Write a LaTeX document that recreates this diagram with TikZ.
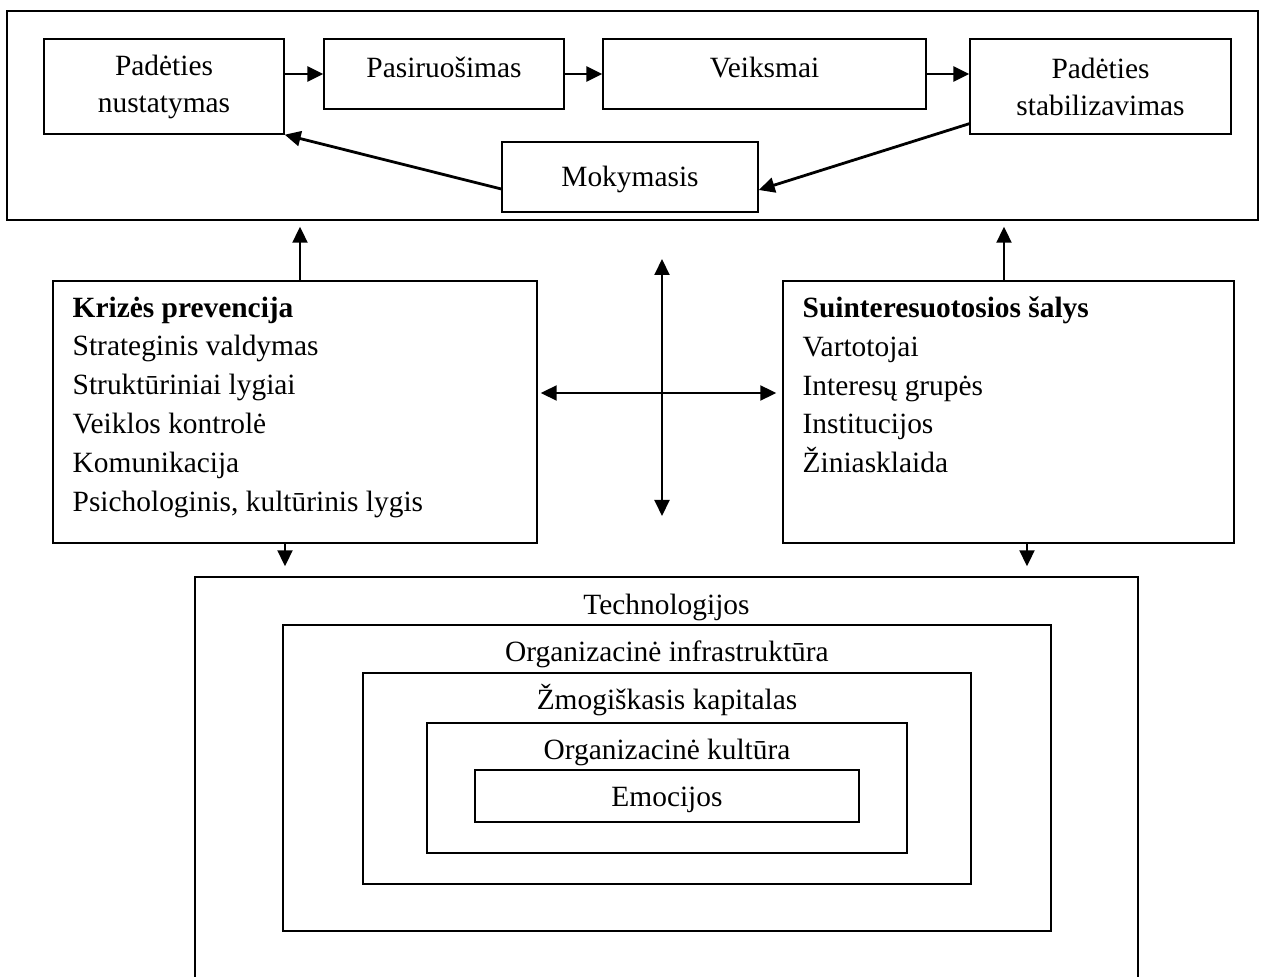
\documentclass[tikz,border=0pt]{standalone}
\usepackage{fontspec}
\setmainfont{Liberation Serif}
\usepackage{tikz}
\usetikzlibrary{positioning, arrows.meta}

\begin{document}
\begin{tikzpicture}[x=0.5pt, y=-0.5pt,
  font=\fontsize{14.7}{19.4}\selectfont,
  box/.style={draw, line width=0.7pt, inner sep=0pt, align=center},
  twoline/.style={font=\fontsize{14.7}{18.5}\selectfont},
  arr/.style={line width=1pt, -{Triangle[length=8pt, width=7.5pt]}},
  arrboth/.style={line width=1pt, {Triangle[length=8pt, width=7.5pt]}-{Triangle[length=8pt, width=7.5pt]}},
  layer/.style={anchor=base, inner sep=0pt},
  listtext/.style={anchor=north west, inner sep=0pt, align=left}]
  \useasboundingbox (0,0) rectangle (1264,977);

  % crisis management cycle
  \node[box, minimum width=625.5pt, minimum height=104.5pt] (frame) at (632.5,115.5) {};
  \node[box, twoline, minimum width=120pt, minimum height=47.5pt] (nustat) at (164,86.5) {Padėties\\nustatymas};
  \node[box, minimum width=120pt, minimum height=35pt] (pasir) at (444,74) {};
  \node[layer] (pasirlbl) at ([yshift=-19.5pt]pasir.north) {Pasiruošimas};
  \node[box, minimum width=161.5pt, minimum height=35pt] (veiks) at (764.5,74) {};
  \node[layer] (veikslbl) at ([yshift=-19.5pt]veiks.north) {Veiksmai};
  \node[box, twoline, minimum width=130.5pt, minimum height=47.5pt] (stabil) at (1100.5,86.5) {Padėties\\stabilizavimas};
  \node[box, minimum width=128pt, minimum height=35pt] (moky) at (630,177) {};
  \node[layer] (mokylbl) at ([yshift=-22.5pt]moky.north) {Mokymasis};

  \draw[arr, line width=1.4pt] (nustat.east |- pasir.west) -- (pasir.west);
  \draw[arr, line width=1.4pt] (pasir.east) -- (veiks.west);
  \draw[arr, line width=1.4pt] (veiks.east) -- (stabil.west |- veiks.east);
  \draw[arr, line width=1.4pt] ([yshift=-6pt]moky.west) -- (nustat.south east);
  \draw[arr, line width=1.4pt] ([yshift=5.5pt]stabil.south west) -- ([yshift=-6.5pt]moky.east);

  % prevention and stakeholders
  \node[box, minimum width=242pt, minimum height=131pt] (krz) at (295,412) {};
  \node[listtext] (krztxt) at ([xshift=10pt, yshift=-8pt]krz.north west)
    {\textbf{Krizės prevencija}\\Strateginis valdymas\\Struktūriniai lygiai\\Veiklos kontrolė\\Komunikacija\\Psichologinis, kultūrinis lygis};
  \node[box, minimum width=225.5pt, minimum height=131pt] (sui) at (1008.5,412) {};
  \node[listtext] (suitxt) at ([xshift=10pt, yshift=-8pt]sui.north west)
    {\textbf{Suinteresuotosios šalys}\\Vartotojai\\Interesų grupės\\Institucijos\\Žiniasklaida};

  \draw[arr, shorten >=3pt] ([xshift=2.5pt]krz.north) -- ([xshift=2.5pt]krz.north |- frame.south);
  \draw[arr, shorten >=3pt] ([xshift=-2.25pt]sui.north) -- ([xshift=-2.25pt]sui.north |- frame.south);

  \coordinate (cross) at (662,393);
  \coordinate (vtop) at (662,259);
  \coordinate (vbot) at (662,516);
  \draw[arrboth, shorten <=1.5pt, shorten >=3pt] (krz.east |- cross) -- (sui.west |- cross);
  \draw[arrboth] (vtop) -- (vbot);

  % organisation layers
  \node[box, minimum width=471.5pt, minimum height=213pt] (tech) at (666.5,790) {};
  \node[layer] (techlbl) at ([yshift=-19pt]tech.north) {Technologijos};
  \node[box, minimum width=384pt, minimum height=153pt] (infra) at (667,778) {};
  \node[layer] (infralbl) at ([yshift=-18.5pt]infra.north) {Organizacinė infrastruktūra};
  \node[box, minimum width=304pt, minimum height=105.5pt] (zmog) at (667,778.5) {};
  \node[layer] (zmoglbl) at ([yshift=-18.5pt]zmog.north) {Žmogiškasis kapitalas};
  \node[box, minimum width=240pt, minimum height=65pt] (kult) at (667,788) {};
  \node[layer] (kultlbl) at ([yshift=-18.5pt]kult.north) {Organizacinė kultūra};
  \node[box, minimum width=192pt, minimum height=26pt] (emo) at (667,796) {};
  \node[layer] (emolbl) at ([yshift=-18.5pt]emo.north) {Emocijos};

  \draw[arr, shorten >=5pt] ([xshift=-5pt]krz.south) -- ([xshift=-5pt]krz.south |- tech.north);
  \draw[arr, shorten >=5pt] ([xshift=9.25pt]sui.south) -- ([xshift=9.25pt]sui.south |- tech.north);
\end{tikzpicture}
\end{document}
